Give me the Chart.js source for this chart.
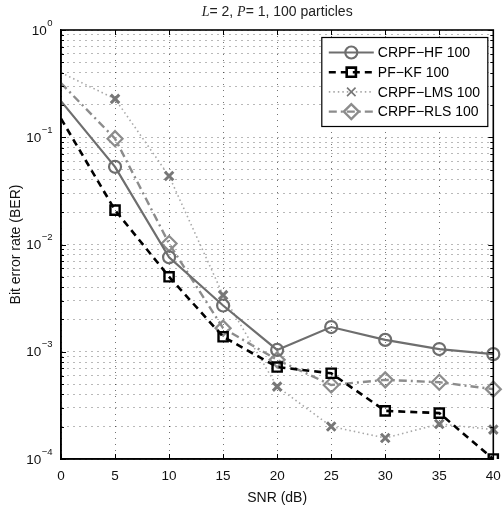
<!DOCTYPE html>
<html>
<head>
<meta charset="utf-8">
<script src="https://cdn.jsdelivr.net/npm/chart.js@4/dist/chart.umd.min.js"></script>
<style>
  html, body { margin: 0; padding: 0; background: #fff; }
  #wrap { width: 503px; height: 508px; }
</style>
</head>
<body>
<div id="wrap"><canvas id="berChart"></canvas></div>
<script>
// SNR (dB)
const snrLabels = ['0', '5', '10', '15', '20', '25', '30', '35', '40'];

// BER de cada curva
const crpfHf  = [0.217, 0.053, 0.0076, 0.0027, 0.00104, 0.0017, 0.00129, 0.00106, 0.00095];
const pfKf    = [0.149, 0.0209, 0.0050, 0.00138, 0.00072, 0.00063, 0.000281, 0.000268, 0.0001];
const crpfLms = [0.40, 0.228, 0.0435, 0.00337, 0.000473, 0.000201, 0.000157, 0.000212, 0.000188];
const crpfRls = [0.32, 0.097, 0.0102, 0.00166, 0.00084, 0.00049, 0.000547, 0.00052, 0.000448];

// Eixo Y (log): décadas e expoentes dos rótulos
const yDecades = [1e-4, 1e-3, 1e-2, 1e-1, 1];
const yExponents = ['−4', '−3', '−2', '−1', '0'];

// ticks menores 2..9 em cada década
const yTicks = [];
yDecades.forEach((d, i) => {
    yTicks.push(d);
    if (i < yDecades.length - 1) {
        for (let m = 2; m <= 9; m++) yTicks.push(+(d * m).toPrecision(3));
    }
});

// sem marcador no ponto 0 dB
const markerRadius = (r) => snrLabels.map((_, i) => i === 0 ? 0 : r);

const FONT = "'Liberation Sans', Arial, sans-serif";
const SERIF = "'Liberation Serif', 'Times New Roman', serif";

// Título com L e P em itálico
const mixedTitle = {
    id: 'mixedTitle',
    afterDraw(chart) {
        const { ctx, chartArea: a } = chart;
        const parts = [
            ['L', 'italic 14px ' + SERIF],
            ['= 2, ', '14px ' + FONT],
            ['P', 'italic 14px ' + SERIF],
            ['= 1, 100 particles', '14px ' + FONT]
        ];
        ctx.save();
        let total = 0;
        parts.forEach(p => { ctx.font = p[1]; total += ctx.measureText(p[0]).width; });
        let x = (a.left + a.right) / 2 - total / 2;
        ctx.fillStyle = '#222';
        ctx.textBaseline = 'middle';
        parts.forEach(p => {
            ctx.font = p[1];
            ctx.fillText(p[0], x, 12.5);
            x += ctx.measureText(p[0]).width;
        });
        ctx.restore();
    }
};

// Moldura, marcas de escala internas e rótulos 10^n
const frameBox = {
    id: 'frameBox',
    afterDatasetsDraw(chart) {
        const { ctx, chartArea: a, scales } = chart;
        const ys = scales.y, xs = scales.x;
        ctx.save();
        ctx.strokeStyle = '#000';
        ctx.lineWidth = 1;
        ctx.beginPath();
        yTicks.forEach(v => {
            const py = Math.round(ys.getPixelForValue(v)) + 0.5;
            const major = yDecades.some(d => Math.abs(d - v) / d < 1e-6);
            const len = major ? 5 : 3;
            ctx.moveTo(a.left, py); ctx.lineTo(a.left + len, py);
            ctx.moveTo(a.right, py); ctx.lineTo(a.right - len, py);
        });
        snrLabels.forEach((_, i) => {
            const px = Math.round(xs.getPixelForValue(i)) + 0.5;
            ctx.moveTo(px, a.bottom); ctx.lineTo(px, a.bottom - 5);
            ctx.moveTo(px, a.top); ctx.lineTo(px, a.top + 5);
        });
        ctx.stroke();
        ctx.lineWidth = 1.6;
        ctx.strokeRect(a.left, a.top, a.right - a.left, a.bottom - a.top);

        // rótulos do eixo Y
        ctx.fillStyle = '#111';
        ctx.textBaseline = 'middle';
        yDecades.forEach((d, i) => {
            const py = ys.getPixelForValue(d);
            ctx.font = '9.5px ' + FONT;
            const ew = ctx.measureText(yExponents[i]).width;
            const ex = a.left - 9 - ew;
            ctx.textAlign = 'left';
            ctx.fillText(yExponents[i], ex + 0.5, py - 7);
            ctx.font = '13.5px ' + FONT;
            ctx.textAlign = 'right';
            ctx.fillText('10', ex, py + 1);
        });
        ctx.restore();
    }
};

// Legenda no canto superior direito, estilo MATLAB
const boxLegend = {
    id: 'boxLegend',
    afterDraw(chart) {
        const { ctx, chartArea: a } = chart;
        const sets = chart.data.datasets;
        const w = 166, rowH = 19.7, h = 89;
        const x0 = a.right - 5.5 - w, y0 = a.top + 7.5;
        ctx.save();
        ctx.fillStyle = '#fff';
        ctx.fillRect(x0, y0, w, h);
        ctx.strokeStyle = '#000';
        ctx.lineWidth = 1.2;
        ctx.strokeRect(x0, y0, w, h);
        ctx.font = '14px ' + FONT;
        ctx.textBaseline = 'middle';
        sets.forEach((ds, i) => {
            const cy = y0 + 15 + i * rowH;
            const lx1 = x0 + 7, lx2 = x0 + 52;
            ctx.save();
            ctx.strokeStyle = ds.borderColor;
            ctx.lineWidth = ds.borderWidth;
            ctx.setLineDash(ds.borderDash || []);
            ctx.beginPath();
            ctx.moveTo(lx1, cy);
            ctx.lineTo(lx2, cy);
            ctx.stroke();
            ctx.setLineDash([]);
            ctx.strokeStyle = ds.pointBorderColor;
            ctx.fillStyle = 'rgba(255,255,255,0)';
            Chart.helpers.drawPoint(ctx, {
                pointStyle: ds.pointStyle,
                radius: ds.legendRadius,
                borderWidth: ds.pointBorderWidth,
                rotation: 0
            }, (lx1 + lx2) / 2, cy);
            ctx.restore();
            ctx.fillStyle = '#000';
            ctx.fillText(ds.label, x0 + 56, cy + 1);
        });
        ctx.restore();
    }
};

const ctx = document.getElementById('berChart').getContext('2d');

new Chart(ctx, {
    type: 'line',
    data: {
        labels: snrLabels,
        datasets: [{
            label: 'CRPF−HF 100',
            data: crpfHf,
            borderColor: '#6e6e6e',
            borderWidth: 2.2,
            borderDash: [],
            pointStyle: 'circle',
            pointRadius: markerRadius(6),
            legendRadius: 6,
            pointBorderColor: '#6e6e6e',
            pointBackgroundColor: 'rgba(255,255,255,0)',
            pointBorderWidth: 2.2
        }, {
            label: 'PF−KF 100',
            data: pfKf,
            borderColor: '#000',
            borderWidth: 2.6,
            borderDash: [7, 5],
            pointStyle: 'rect',
            pointRadius: markerRadius(6.5),
            legendRadius: 6.5,
            pointBorderColor: '#000',
            pointBackgroundColor: 'rgba(255,255,255,0)',
            pointBorderWidth: 2.4
        }, {
            label: 'CRPF−LMS 100',
            data: crpfLms,
            borderColor: '#a8a8a8',
            borderWidth: 1.6,
            borderDash: [1.5, 3],
            pointStyle: 'crossRot',
            pointRadius: markerRadius(6),
            legendRadius: 6,
            pointBorderColor: '#777',
            pointBackgroundColor: 'rgba(255,255,255,0)',
            pointBorderWidth: 3
        }, {
            label: 'CRPF−RLS 100',
            data: crpfRls,
            borderColor: '#8c8c8c',
            borderWidth: 2.4,
            borderDash: [8, 4, 2, 4],
            pointStyle: 'rectRot',
            pointRadius: markerRadius(7.5),
            legendRadius: 7.5,
            pointBorderColor: '#8c8c8c',
            pointBackgroundColor: 'rgba(255,255,255,0)',
            pointBorderWidth: 2.2
        }]
    },
    options: {
        responsive: true,
        maintainAspectRatio: false,
        animation: false,
        layout: { padding: { left: 0, right: 0, top: 30, bottom: 0 } },
        elements: { line: { tension: 0, fill: false } },
        plugins: {
            legend: { display: false },
            tooltip: { enabled: false },
            title: { display: false }
        },
        scales: {
            x: {
                type: 'category',
                offset: false,
                afterFit(scale) {
                    scale.height = 49;
                    scale.paddingLeft = 0;
                    scale.paddingRight = 6;
                },
                grid: {
                    color: 'rgba(0,0,0,0.55)',
                    lineWidth: 1,
                    drawTicks: false
                },
                border: { display: true, color: '#000', width: 1.5, dash: [1, 5] },
                ticks: {
                    color: '#111',
                    font: { family: FONT, size: 13.5 },
                    padding: 9,
                    maxRotation: 0,
                    autoSkip: false
                },
                title: {
                    display: true,
                    text: 'SNR (dB)',
                    color: '#111',
                    font: { family: FONT, size: 14 },
                    padding: { top: 0, bottom: 1.5 }
                }
            },
            y: {
                type: 'logarithmic',
                min: 1e-4,
                max: 1,
                afterBuildTicks(axis) {
                    axis.ticks = yTicks.map(v => ({ value: v }));
                },
                afterFit(scale) {
                    scale.width = 61;
                },
                grid: {
                    color: 'rgba(0,0,0,0.55)',
                    lineWidth: 1,
                    drawTicks: false
                },
                border: { display: true, color: '#000', width: 1.5, dash: [1, 5] },
                ticks: { display: false },
                title: {
                    display: true,
                    text: 'Bit error rate (BER)',
                    color: '#111',
                    font: { family: FONT, size: 14 },
                    padding: { top: 8, bottom: 0 }
                }
            }
        }
    },
    plugins: [frameBox, boxLegend, mixedTitle]
});
</script>
</body>
</html>
